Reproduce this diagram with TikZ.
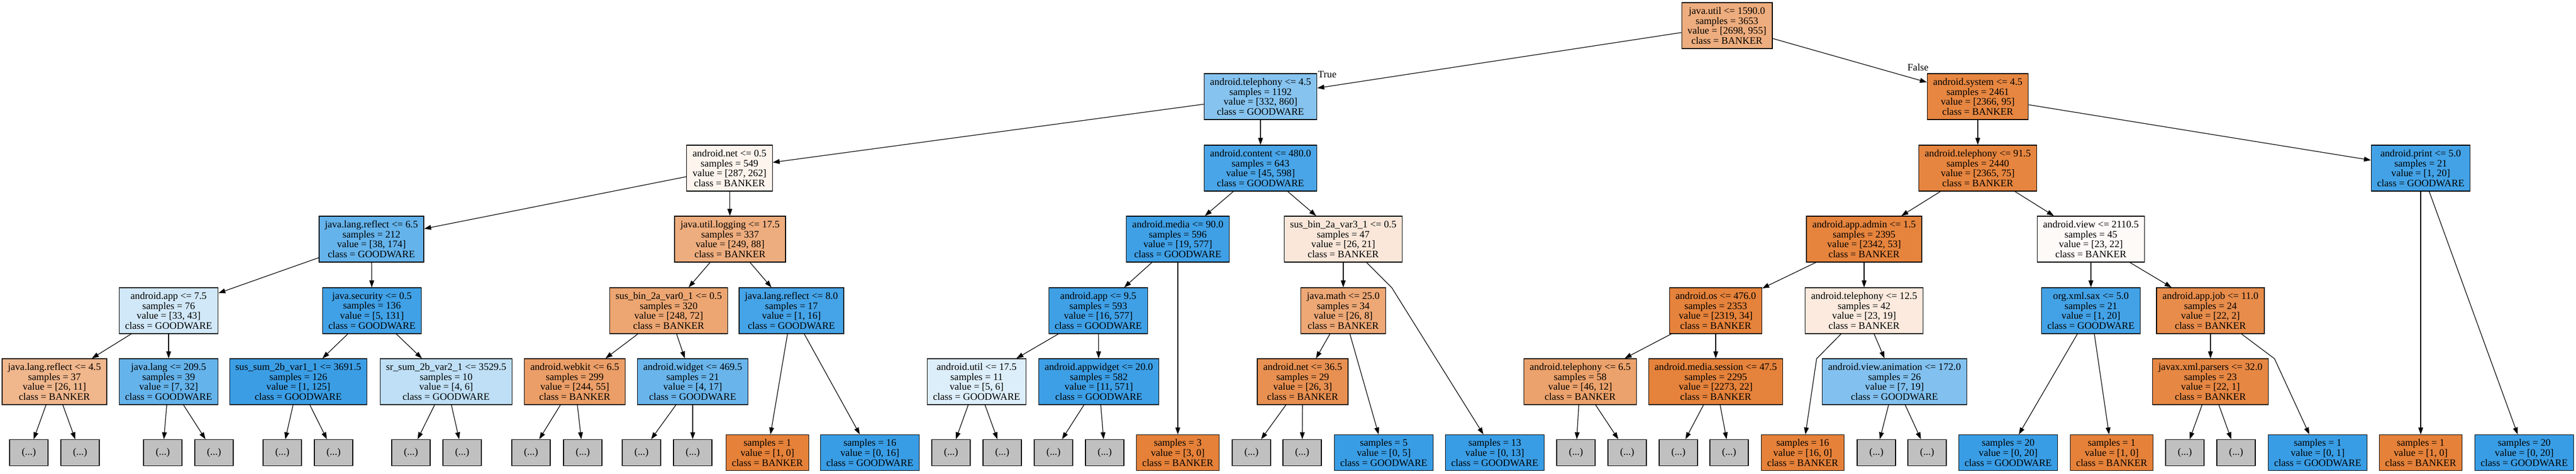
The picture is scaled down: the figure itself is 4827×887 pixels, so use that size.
\documentclass[tikz,border=0pt]{standalone}
\usepackage{fontspec}
\setmainfont{Liberation Serif}
\usepackage{tikz}
\usetikzlibrary{arrows.meta}
\definecolor{banker}{RGB}{229,129,57}
\definecolor{goodware}{RGB}{57,157,229}
\definecolor{hidden}{RGB}{192,192,192}
\newcommand{\nodefont}{\fontsize{18.7pt}{18.7pt}\selectfont}

\begin{document}
\begin{tikzpicture}[x=1pt, y=-1pt, >={Triangle[length=13pt,width=9pt]},
  testbox/.style={draw, line width=1.3pt, align=center, inner xsep=11pt, inner ysep=0pt, minimum height=86pt, font=\nodefont},
  leafbox/.style={testbox, minimum height=67pt},
  hiddenbox/.style={draw, line width=1.3pt, fill=hidden, minimum width=72pt, minimum height=49pt, inner sep=0pt, font=\nodefont},
  treeedge/.style={->, line width=1.2pt}]

\useasboundingbox (0,0) rectangle (4827,887);

\node [testbox, fill=banker!65] (root) at (3236,48) {java.util <= 1590.0\\samples = 3653\\value = [2698, 955]\\class = BANKER};

\node [testbox, fill=goodware!61] (tel1) at (2362,181) {android.telephony <= 4.5\\samples = 1192\\value = [332, 860]\\class = GOODWARE};
\node [testbox, fill=banker!96] (sys1) at (3706,181) {android.system <= 4.5\\samples = 2461\\value = [2366, 95]\\class = BANKER};
\node (truelabel) at (2487,139) {\nodefont True};
\node (falselabel) at (3594,126) {\nodefont False};

\node [testbox, fill=banker!9] (net2) at (1367,315) {android.net <= 0.5\\samples = 549\\value = [287, 262]\\class = BANKER};
\node [testbox, fill=goodware!92] (cont2) at (2362,315) {android.content <= 480.0\\samples = 643\\value = [45, 598]\\class = GOODWARE};
\node [testbox, fill=banker!97] (tel2) at (3706,315) {android.telephony <= 91.5\\samples = 2440\\value = [2365, 75]\\class = BANKER};
\node [testbox, fill=goodware!95] (print2) at (4536,315) {android.print <= 5.0\\samples = 21\\value = [1, 20]\\class = GOODWARE};

\node [testbox, fill=goodware!78] (refl3) at (696,448) {java.lang.reflect <= 6.5\\samples = 212\\value = [38, 174]\\class = GOODWARE};
\node [testbox, fill=banker!65] (log3) at (1368,448) {java.util.logging <= 17.5\\samples = 337\\value = [249, 88]\\class = BANKER};
\node [testbox, fill=goodware!97] (media3) at (2207,448) {android.media <= 90.0\\samples = 596\\value = [19, 577]\\class = GOODWARE};
\node [testbox, fill=banker!19] (var3) at (2517,448) {sus\_bin\_2a\_var3\_1 <= 0.5\\samples = 47\\value = [26, 21]\\class = BANKER};
\node [testbox, fill=banker!98] (admin3) at (3493,448) {android.app.admin <= 1.5\\samples = 2395\\value = [2342, 53]\\class = BANKER};
\node [testbox, fill=banker!4] (view3) at (3918,448) {android.view <= 2110.5\\samples = 45\\value = [23, 22]\\class = BANKER};

\node [testbox, fill=goodware!23] (app4) at (316,582) {android.app <= 7.5\\samples = 76\\value = [33, 43]\\class = GOODWARE};
\node [testbox, fill=goodware!96] (sec4) at (697,582) {java.security <= 0.5\\samples = 136\\value = [5, 131]\\class = GOODWARE};
\node [testbox, fill=banker!71] (var04) at (1253,582) {sus\_bin\_2a\_var0\_1 <= 0.5\\samples = 320\\value = [248, 72]\\class = BANKER};
\node [testbox, fill=goodware!94] (refl4) at (1483,582) {java.lang.reflect <= 8.0\\samples = 17\\value = [1, 16]\\class = GOODWARE};
\node [testbox, fill=goodware!97] (app94) at (2058,582) {android.app <= 9.5\\samples = 593\\value = [16, 577]\\class = GOODWARE};
\node [testbox, fill=banker!69] (math4) at (2517,582) {java.math <= 25.0\\samples = 34\\value = [26, 8]\\class = BANKER};
\node [testbox, fill=banker!99] (os4) at (3215,582) {android.os <= 476.0\\samples = 2353\\value = [2319, 34]\\class = BANKER};
\node [testbox, fill=banker!17] (tel4) at (3493,582) {android.telephony <= 12.5\\samples = 42\\value = [23, 19]\\class = BANKER};
\node [testbox, fill=goodware!95] (sax4) at (3918,582) {org.xml.sax <= 5.0\\samples = 21\\value = [1, 20]\\class = GOODWARE};
\node [testbox, fill=banker!91] (job4) at (4142,582) {android.app.job <= 11.0\\samples = 24\\value = [22, 2]\\class = BANKER};

\node [testbox, fill=banker!58] (refl5) at (102,715) {java.lang.reflect <= 4.5\\samples = 37\\value = [26, 11]\\class = BANKER};
\node [testbox, fill=goodware!78] (lang5) at (316,715) {java.lang <= 209.5\\samples = 39\\value = [7, 32]\\class = GOODWARE};
\node [testbox, fill=goodware!99] (sum5) at (559,715) {sus\_sum\_2b\_var1\_1 <= 3691.5\\samples = 126\\value = [1, 125]\\class = GOODWARE};
\node [testbox, fill=goodware!33] (sr5) at (836,715) {sr\_sum\_2b\_var2\_1 <= 3529.5\\samples = 10\\value = [4, 6]\\class = GOODWARE};
\node [testbox, fill=banker!77] (webkit5) at (1077,715) {android.webkit <= 6.5\\samples = 299\\value = [244, 55]\\class = BANKER};
\node [testbox, fill=goodware!76] (widget5) at (1298,715) {android.widget <= 469.5\\samples = 21\\value = [4, 17]\\class = GOODWARE};
\node [testbox, fill=goodware!17] (util5) at (1830,715) {android.util <= 17.5\\samples = 11\\value = [5, 6]\\class = GOODWARE};
\node [testbox, fill=goodware!98] (appw5) at (2059,715) {android.appwidget <= 20.0\\samples = 582\\value = [11, 571]\\class = GOODWARE};
\node [testbox, fill=banker!88] (net5) at (2441,715) {android.net <= 36.5\\samples = 29\\value = [26, 3]\\class = BANKER};
\node [testbox, fill=banker!74] (tel5) at (2961,715) {android.telephony <= 6.5\\samples = 58\\value = [46, 12]\\class = BANKER};
\node [testbox, fill=banker!99] (sess5) at (3215,715) {android.media.session <= 47.5\\samples = 2295\\value = [2273, 22]\\class = BANKER};
\node [testbox, fill=goodware!63] (anim5) at (3550,715) {android.view.animation <= 172.0\\samples = 26\\value = [7, 19]\\class = GOODWARE};
\node [testbox, fill=banker!95] (xml5) at (4142,715) {javax.xml.parsers <= 32.0\\samples = 23\\value = [22, 1]\\class = BANKER};

\node [leafbox, fill=banker] (leafA) at (1438,848) {samples = 1\\value = [1, 0]\\class = BANKER};
\node [leafbox, fill=goodware] (leafB) at (1630,848) {samples = 16\\value = [0, 16]\\class = GOODWARE};
\node [leafbox, fill=banker] (leafC) at (2207,848) {samples = 3\\value = [3, 0]\\class = BANKER};
\node [leafbox, fill=goodware] (leafD) at (2593,848) {samples = 5\\value = [0, 5]\\class = GOODWARE};
\node [leafbox, fill=goodware] (leafE) at (2801,848) {samples = 13\\value = [0, 13]\\class = GOODWARE};
\node [leafbox, fill=banker] (leafF) at (3378,848) {samples = 16\\value = [16, 0]\\class = BANKER};
\node [leafbox, fill=goodware] (leafG) at (3763,848) {samples = 20\\value = [0, 20]\\class = GOODWARE};
\node [leafbox, fill=banker] (leafH) at (3957,848) {samples = 1\\value = [1, 0]\\class = BANKER};
\node [leafbox, fill=goodware] (leafI) at (4343,848) {samples = 1\\value = [0, 1]\\class = GOODWARE};
\node [leafbox, fill=banker] (leafJ) at (4536,848) {samples = 1\\value = [1, 0]\\class = BANKER};
\node [leafbox, fill=goodware] (leafK) at (4730,848) {samples = 20\\value = [0, 20]\\class = GOODWARE};

\node [hiddenbox] (refl5a) at (54,848) {(...)};   \node [hiddenbox] (refl5b) at (150,848) {(...)};
\node [hiddenbox] (lang5a) at (305,848) {(...)};  \node [hiddenbox] (lang5b) at (401,848) {(...)};
\node [hiddenbox] (sum5a) at (529,848) {(...)};   \node [hiddenbox] (sum5b) at (625,848) {(...)};
\node [hiddenbox] (sr5a) at (770,848) {(...)};    \node [hiddenbox] (sr5b) at (866,848) {(...)};
\node [hiddenbox] (webkit5a) at (995,848) {(...)};  \node [hiddenbox] (webkit5b) at (1092,848) {(...)};
\node [hiddenbox] (widget5a) at (1202,848) {(...)}; \node [hiddenbox] (widget5b) at (1298,848) {(...)};
\node [hiddenbox] (util5a) at (1782,848) {(...)};  \node [hiddenbox] (util5b) at (1878,848) {(...)};
\node [hiddenbox] (appw5a) at (1974,848) {(...)};  \node [hiddenbox] (appw5b) at (2070,848) {(...)};
\node [hiddenbox] (net5a) at (2345,848) {(...)};   \node [hiddenbox] (net5b) at (2440,848) {(...)};
\node [hiddenbox] (tel5a) at (2953,848) {(...)};   \node [hiddenbox] (tel5b) at (3049,848) {(...)};
\node [hiddenbox] (sess5a) at (3145,848) {(...)};  \node [hiddenbox] (sess5b) at (3240,848) {(...)};
\node [hiddenbox] (anim5a) at (3516,848) {(...)};  \node [hiddenbox] (anim5b) at (3611,848) {(...)};
\node [hiddenbox] (xml5a) at (4094,848) {(...)};   \node [hiddenbox] (xml5b) at (4190,848) {(...)};

\coordinate (bendE) at (2608,539);
\coordinate (bendF) at (3404,672);
\coordinate (bendI) at (4262,672);

\draw [treeedge] (root) -- (tel1);    \draw [treeedge] (root) -- (sys1);
\draw [treeedge] (tel1) -- (net2);    \draw [treeedge] (tel1) -- (cont2);
\draw [treeedge] (sys1) -- (tel2);    \draw [treeedge] (sys1) -- (print2);
\draw [treeedge] (print2) -- (leafJ); \draw [treeedge] (print2) -- (leafK);
\draw [treeedge] (net2) -- (refl3);   \draw [treeedge] (net2) -- (log3);
\draw [treeedge] (cont2) -- (media3); \draw [treeedge] (cont2) -- (var3);
\draw [treeedge] (tel2) -- (admin3);  \draw [treeedge] (tel2) -- (view3);
\draw [treeedge] (refl3) -- (app4);   \draw [treeedge] (refl3) -- (sec4);
\draw [treeedge] (log3) -- (var04);   \draw [treeedge] (log3) -- (refl4);
\draw [treeedge] (media3) -- (app94); \draw [treeedge] (media3) -- (leafC);
\draw [treeedge] (var3) -- (math4);   \draw [treeedge] (var3) -- (bendE) -- (leafE);
\draw [treeedge] (admin3) -- (os4);   \draw [treeedge] (admin3) -- (tel4);
\draw [treeedge] (view3) -- (sax4);   \draw [treeedge] (view3) -- (job4);
\draw [treeedge] (app4) -- (refl5);   \draw [treeedge] (app4) -- (lang5);
\draw [treeedge] (sec4) -- (sum5);    \draw [treeedge] (sec4) -- (sr5);
\draw [treeedge] (var04) -- (webkit5); \draw [treeedge] (var04) -- (widget5);
\draw [treeedge] (refl4) -- (leafA);  \draw [treeedge] (refl4) -- (leafB);
\draw [treeedge] (app94) -- (util5);  \draw [treeedge] (app94) -- (appw5);
\draw [treeedge] (math4) -- (net5);   \draw [treeedge] (math4) -- (leafD);
\draw [treeedge] (os4) -- (tel5);     \draw [treeedge] (os4) -- (sess5);
\draw [treeedge] (tel4) -- (bendF) -- (leafF); \draw [treeedge] (tel4) -- (anim5);
\draw [treeedge] (sax4) -- (leafG);   \draw [treeedge] (sax4) -- (leafH);
\draw [treeedge] (job4) -- (xml5);    \draw [treeedge] (job4) -- (bendI) -- (leafI);

\draw [treeedge] (refl5) -- (refl5a);   \draw [treeedge] (refl5) -- (refl5b);
\draw [treeedge] (lang5) -- (lang5a);   \draw [treeedge] (lang5) -- (lang5b);
\draw [treeedge] (sum5) -- (sum5a);     \draw [treeedge] (sum5) -- (sum5b);
\draw [treeedge] (sr5) -- (sr5a);       \draw [treeedge] (sr5) -- (sr5b);
\draw [treeedge] (webkit5) -- (webkit5a); \draw [treeedge] (webkit5) -- (webkit5b);
\draw [treeedge] (widget5) -- (widget5a); \draw [treeedge] (widget5) -- (widget5b);
\draw [treeedge] (util5) -- (util5a);   \draw [treeedge] (util5) -- (util5b);
\draw [treeedge] (appw5) -- (appw5a);   \draw [treeedge] (appw5) -- (appw5b);
\draw [treeedge] (net5) -- (net5a);     \draw [treeedge] (net5) -- (net5b);
\draw [treeedge] (tel5) -- (tel5a);     \draw [treeedge] (tel5) -- (tel5b);
\draw [treeedge] (sess5) -- (sess5a);   \draw [treeedge] (sess5) -- (sess5b);
\draw [treeedge] (anim5) -- (anim5a);   \draw [treeedge] (anim5) -- (anim5b);
\draw [treeedge] (xml5) -- (xml5a);     \draw [treeedge] (xml5) -- (xml5b);

\end{tikzpicture}
\end{document}
